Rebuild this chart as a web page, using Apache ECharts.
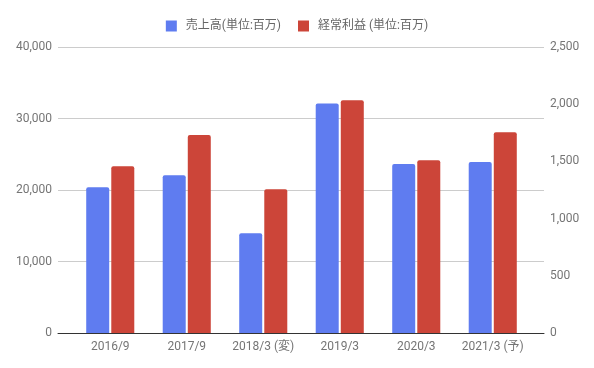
<!DOCTYPE html>
<html><head><meta charset="utf-8">
<script src="https://cdn.jsdelivr.net/npm/echarts@6/dist/echarts.min.js"></script>
<style>html,body{margin:0;padding:0;background:#fff}#c{width:594px;height:368px}</style>
</head><body><div id="c"></div>
<script>
const categories = ['2016/9', '2017/9', '2018/3 (変)', '2019/3', '2020/3', '2021/3 (予)'];
const salesName = '売上高(単位:百万)';
const profitName = '経常利益 (単位:百万)';
const sales = [20400, 22050, 13950, 32100, 23650, 23900];
const profit = [1457, 1731, 1256, 2034, 1509, 1754];
const leftTicks = { min: 0, max: 40000, interval: 10000 };
const rightTicks = { min: 0, max: 2500, interval: 500 };

const FONT = 'Roboto, "Noto Sans CJK JP", sans-serif';
const chart = echarts.init(document.getElementById('c'), null, { renderer: 'canvas' });
const labelColor = '#757575';
chart.setOption({
  animation: false,
  textStyle: { fontFamily: FONT },
  legend: {
    top: 15, left: 'center', itemWidth: 11, itemHeight: 11, itemGap: 17,
    icon: 'rect',
    textStyle: { fontFamily: FONT, fontSize: 12, color: '#666', padding: [0, 0, 0, 4] },
    data: [salesName, profitName]
  },
  grid: [
    { left: 58, right: 50, top: 47, bottom: 35 },
    { left: 72, right: 63, top: 47, bottom: 35 }
  ],
  xAxis: [
    { gridIndex: 0, type: 'value', min: 0, max: 1, show: true,
      axisLine: { show: true, onZero: false, lineStyle: { color: '#333', width: 1 } },
      axisTick: { show: false }, axisLabel: { show: false }, splitLine: { show: false } },
    { gridIndex: 1, type: 'category', data: categories,
      axisLine: { show: false }, axisTick: { show: false },
      axisLabel: { color: labelColor, fontSize: 12, fontFamily: FONT, margin: 8, interval: 0 } }
  ],
  yAxis: [
    { gridIndex: 0, type: 'value', position: 'left', min: leftTicks.min, max: leftTicks.max, interval: leftTicks.interval,
      axisLine: { show: false }, axisTick: { show: false },
      axisLabel: { color: labelColor, fontSize: 12, fontFamily: FONT, margin: 6,
        formatter: v => v.toLocaleString('en-US') },
      splitLine: { show: true, lineStyle: { color: '#cccccc', width: 1 } } },
    { gridIndex: 0, type: 'value', position: 'right', min: rightTicks.min, max: rightTicks.max, interval: rightTicks.interval,
      axisLine: { show: false }, axisTick: { show: false },
      axisLabel: { color: labelColor, fontSize: 12, fontFamily: FONT, margin: 6,
        formatter: v => v.toLocaleString('en-US') },
      splitLine: { show: false } },
    { gridIndex: 1, type: 'value', min: leftTicks.min, max: leftTicks.max, show: false },
    { gridIndex: 1, type: 'value', min: rightTicks.min, max: rightTicks.max, show: false }
  ],
  series: [
    { name: salesName, type: 'bar', xAxisIndex: 1, yAxisIndex: 2, data: sales,
      barWidth: 23, barGap: '9%', z: 1,
      itemStyle: { color: '#5f7cf0', borderRadius: [2, 2, 0, 0] } },
    { name: profitName, type: 'bar', xAxisIndex: 1, yAxisIndex: 3, data: profit,
      barWidth: 23, barGap: '9%', z: 1,
      itemStyle: { color: '#cc4539', borderRadius: [2, 2, 0, 0] } }
  ]
});
</script></body></html>
